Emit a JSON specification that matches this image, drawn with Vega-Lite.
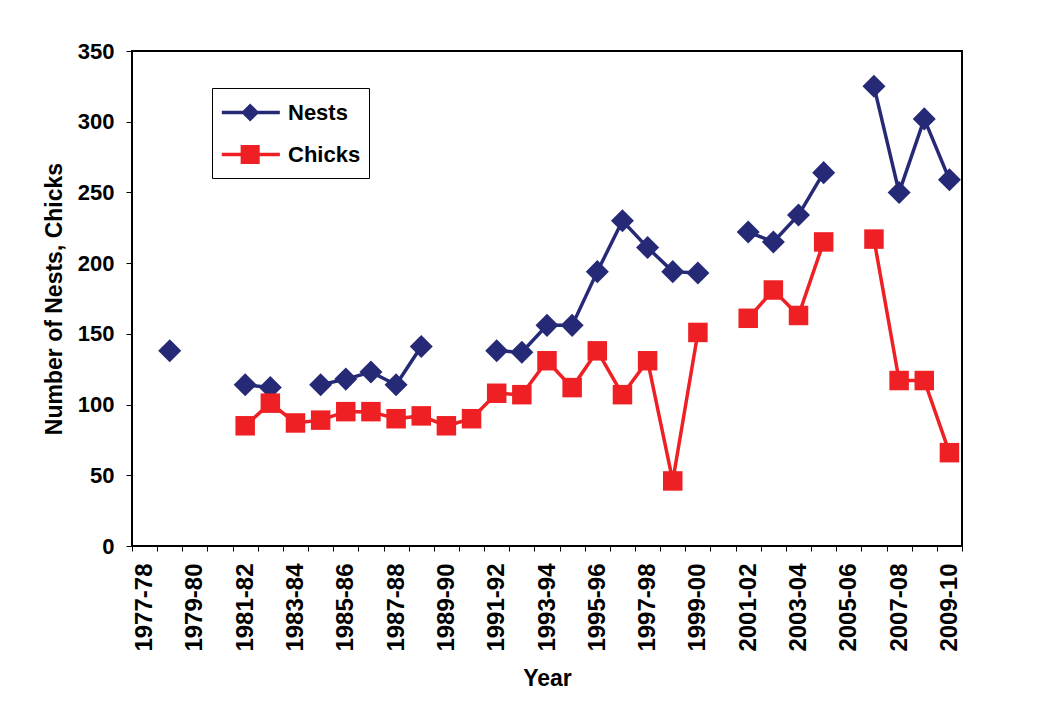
{
  "$schema": "https://vega.github.io/schema/vega-lite/v6.json",
  "width": 830,
  "height": 495,
  "autosize": {"type": "none"},
  "padding": {"left": 132, "top": 51, "right": 98, "bottom": 175},
  "background": "white",
  "config": {
    "font": "Liberation Sans",
    "view": {"stroke": "#000", "strokeWidth": 2},
    "axis": {
      "labelFont": "Liberation Sans",
      "labelFontWeight": "bold",
      "titleFont": "Liberation Sans",
      "titleFontWeight": "bold",
      "labelColor": "#000",
      "titleColor": "#000",
      "tickColor": "#000",
      "domainColor": "#000",
      "grid": false
    }
  },
  "data": {
    "values": [
      {"season": "1977-78", "Nests": null, "Chicks": null},
      {"season": "1978-79", "Nests": 138, "Chicks": null},
      {"season": "1979-80", "Nests": null, "Chicks": null},
      {"season": "1980-81", "Nests": null, "Chicks": null},
      {"season": "1981-82", "Nests": 114, "Chicks": 85},
      {"season": "1982-83", "Nests": 112, "Chicks": 101},
      {"season": "1983-84", "Nests": null, "Chicks": 87},
      {"season": "1984-85", "Nests": 114, "Chicks": 89},
      {"season": "1985-86", "Nests": 118, "Chicks": 95},
      {"season": "1986-87", "Nests": 123, "Chicks": 95},
      {"season": "1987-88", "Nests": 114, "Chicks": 90},
      {"season": "1988-89", "Nests": 141, "Chicks": 92},
      {"season": "1989-90", "Nests": null, "Chicks": 85},
      {"season": "1990-91", "Nests": null, "Chicks": 90},
      {"season": "1991-92", "Nests": 138, "Chicks": 108},
      {"season": "1992-93", "Nests": 137, "Chicks": 107},
      {"season": "1993-94", "Nests": 156, "Chicks": 131},
      {"season": "1994-95", "Nests": 156, "Chicks": 112},
      {"season": "1995-96", "Nests": 194, "Chicks": 138},
      {"season": "1996-97", "Nests": 230, "Chicks": 107},
      {"season": "1997-98", "Nests": 211, "Chicks": 131},
      {"season": "1998-99", "Nests": 194, "Chicks": 46},
      {"season": "1999-00", "Nests": 193, "Chicks": 151},
      {"season": "2000-01", "Nests": null, "Chicks": null},
      {"season": "2001-02", "Nests": 222, "Chicks": 161},
      {"season": "2002-03", "Nests": 215, "Chicks": 181},
      {"season": "2003-04", "Nests": 234, "Chicks": 163},
      {"season": "2004-05", "Nests": 264, "Chicks": 215},
      {"season": "2005-06", "Nests": null, "Chicks": null},
      {"season": "2006-07", "Nests": 325, "Chicks": 217},
      {"season": "2007-08", "Nests": 250, "Chicks": 117},
      {"season": "2008-09", "Nests": 302, "Chicks": 117},
      {"season": "2009-10", "Nests": 259, "Chicks": 66}
    ]
  },
  "transform": [{"fold": ["Nests", "Chicks"], "as": ["series", "value"]}],
  "encoding": {
    "x": {
      "field": "season",
      "type": "ordinal",
      "scale": {
        "type": "band",
        "paddingInner": 0,
        "paddingOuter": 0,
        "domain": ["1977-78","1978-79","1979-80","1980-81","1981-82","1982-83","1983-84","1984-85","1985-86","1986-87","1987-88","1988-89","1989-90","1990-91","1991-92","1992-93","1993-94","1994-95","1995-96","1996-97","1997-98","1998-99","1999-00","2000-01","2001-02","2002-03","2003-04","2004-05","2005-06","2006-07","2007-08","2008-09","2009-10"]
      },
      "axis": {
        "title": "Year",
        "titleFontSize": 23,
        "titlePadding": 16,
        "labelFontSize": 24,
        "labelAngle": -90,
        "labelPadding": 12,
        "labelOverlap": false,
        "labelExpr": "parseInt(substring(datum.value, 0, 4)) % 2 == 1 ? datum.label : ''",
        "tickSize": 5,
        "tickBand": "extent",
        "domain": false
      }
    },
    "y": {
      "field": "value",
      "type": "quantitative",
      "scale": {"domain": [0, 350]},
      "axis": {
        "title": "Number of Nests, Chicks",
        "titleFontSize": 23,
        "titlePadding": 11,
        "labelFontSize": 22,
        "labelPadding": 12,
        "tickSize": 6,
        "values": [0, 50, 100, 150, 200, 250, 300, 350],
        "domain": false
      }
    },
    "color": {
      "field": "series",
      "type": "nominal",
      "scale": {"domain": ["Nests", "Chicks"], "range": ["#262a76", "#ee2024"]},
      "legend": {
        "title": null,
        "orient": "none",
        "legendX": 80,
        "legendY": 37,
        "strokeColor": "#000",
        "fillColor": "#fff",
        "padding": 8,
        "labelFont": "Liberation Sans",
        "labelFontWeight": "bold",
        "labelFontSize": 22,
        "labelColor": "#000",
        "labelOffset": 35,
        "rowPadding": 11,
        "symbolSize": 864,
        "symbolOpacity": 1,
        "symbolStrokeWidth": 3.5,
        "symbolType": {"expr": "datum.value === 'Nests' ? 'M-1,0L2.95,0M0.93,-0.45L1.38,0L0.93,0.45L0.48,0Z' : 'M-1,0L2.95,0M0.4,-0.53L1.46,-0.53L1.46,0.53L0.4,0.53Z'"},
        "symbolStrokeColor": {"expr": "datum.value === 'Nests' ? '#262a76' : '#ee2024'"},
        "symbolFillColor": {"expr": "datum.value === 'Nests' ? '#262a76' : '#ee2024'"}
      }
    }
  },
  "layer": [
    {"mark": {"type": "line", "strokeWidth": 3.5, "invalid": "break-paths-show-domains"}},
    {
      "transform": [{"filter": "datum.series === 'Nests'"}],
      "mark": {"type": "point", "filled": true, "opacity": 1, "shape": "diamond", "size": 530}
    },
    {
      "transform": [{"filter": "datum.series === 'Chicks'"}],
      "mark": {"type": "point", "filled": true, "opacity": 1, "shape": "square", "size": 380}
    }
  ]
}
